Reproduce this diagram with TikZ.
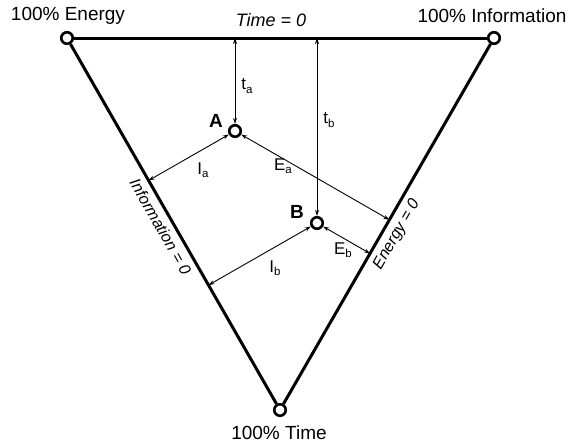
\documentclass[tikz,border=0pt]{standalone}
\usepackage{fontspec}
\setmainfont{Liberation Sans}
\usetikzlibrary{arrows.meta,calc}
\newcommand{\sublbl}[2]{#1\raisebox{-0.35ex}{\fontsize{11.5}{12}\selectfont #2}}
\begin{document}
\begin{tikzpicture}[x=1pt,y=-1pt,
  vtx/.style={circle,draw,line width=2.6pt,fill=white,minimum size=11.5pt,inner sep=0pt},
  edge/.style={line width=3pt},
  meas/.style={line width=0.9pt,{Stealth[length=6pt,width=4pt]}-{Stealth[length=6pt,width=4pt]}},
  corner/.style={font=\fontsize{19}{20}\selectfont},
  lbl/.style={font=\fontsize{17}{18}\selectfont,inner sep=0pt},
  pt/.style={font=\fontsize{19}{20}\selectfont\bfseries,inner sep=0pt},
  zero/.style={font=\fontsize{16}{17}\selectfont\itshape}]
\path[use as bounding box] (0,0) rectangle (574,447);
\node[vtx] (E) at (67,38) {};
\node[vtx] (I) at (494,38) {};
\node[vtx] (T) at (280,410) {};
\node[vtx] (A) at (235,131) {};
\node[vtx] (B) at (317,223) {};
\draw[edge] (E) -- (I);
\draw[edge] (I) -- (T);
\draw[edge] (T) -- (E);
\coordinate (ta) at (A |- E);
\coordinate (tb) at (B |- E);
\coordinate (ia) at ($(E)!(A)!(T)$);
\coordinate (ib) at ($(E)!(B)!(T)$);
\coordinate (ea) at ($(I)!(A)!(T)$);
\coordinate (eb) at ($(I)!(B)!(T)$);
\draw[meas] (ta) -- (A);
\draw[meas] (tb) -- (B);
\draw[meas] (ia) -- (A);
\draw[meas] (ib) -- (B);
\draw[meas] (ea) -- (A);
\draw[meas] (eb) -- (B);
\node[corner] (le) at (68,16) {100\% Energy};
\node[corner] (li) at (492,16) {100\% Information};
\node[corner] (lt) at (279,433) {100\% Time};
\node[font=\fontsize{18}{19}\selectfont\itshape] (lt0) at (271,20) {Time = 0};
\path (E) -- (T) node[zero,pos=0.49,sloped,below=3pt] (li0) {Information = 0};
\path (T) -- (I) node[zero,pos=0.49,sloped,below=3pt] (le0) {Energy = 0};
\node[pt] (la) at (216,121) {A};
\node[pt] (lb) at (297,212) {B};
\node[lbl] (lta) at (247,86) {\sublbl{t}{a}};
\node[lbl] (ltb) at (329,120) {\sublbl{t}{b}};
\node[lbl] (lia) at (203,170) {\sublbl{I}{a}};
\node[lbl] (lea) at (283,166) {\sublbl{E}{a}};
\node[lbl] (lib) at (275,268) {\sublbl{I}{b}};
\node[lbl] (leb) at (343,250) {\sublbl{E}{b}};
\end{tikzpicture}
\end{document}
